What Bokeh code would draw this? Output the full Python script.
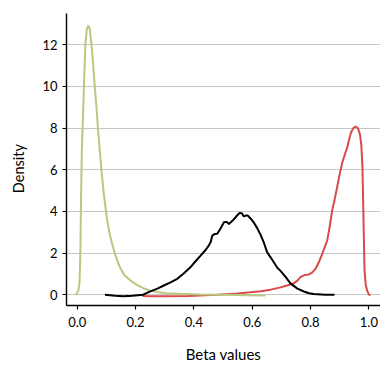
from bokeh.plotting import figure
from bokeh.models import Range1d, FixedTicker
from bokeh.embed import file_html
from bokeh.resources import INLINE

# ---- data ----
green_x = [-0.005, 0.004, 0.008, 0.011, 0.013, 0.016, 0.020, 0.023, 0.028, 0.033, 0.038,
           0.043, 0.049, 0.055, 0.060, 0.066, 0.071, 0.077, 0.083, 0.090, 0.097, 0.103,
           0.110, 0.118, 0.126, 0.135, 0.144, 0.153, 0.163, 0.175, 0.186, 0.205, 0.225,
           0.248, 0.275, 0.306, 0.35, 0.42, 0.50, 0.58, 0.645]
green_y = [0.0, 0.2, 0.6, 2.1, 4.5, 7.0, 8.6, 10.0, 12.0, 12.75, 12.92,
           12.75, 12.0, 11.0, 10.0, 9.0, 8.0, 7.0, 6.0, 5.0, 4.2, 3.56,
           3.0, 2.55, 2.12, 1.75, 1.4, 1.15, 0.93, 0.78, 0.65, 0.48, 0.33,
           0.21, 0.14, 0.08, 0.05, 0.02, 0.0, -0.02, -0.03]

black_x = [0.095, 0.13, 0.158, 0.19, 0.226, 0.251, 0.275, 0.297, 0.32, 0.343, 0.365,
           0.388, 0.405, 0.423, 0.440, 0.451, 0.458, 0.463, 0.472, 0.480, 0.490, 0.503,
           0.512, 0.520, 0.532, 0.543, 0.551, 0.558, 0.565, 0.571, 0.578, 0.585, 0.595,
           0.605, 0.617, 0.628, 0.640, 0.651, 0.663, 0.674, 0.686, 0.697, 0.715, 0.731,
           0.755, 0.777, 0.795, 0.811, 0.85, 0.882]
black_y = [0.0, -0.04, -0.07, -0.04, 0.01, 0.17, 0.30, 0.45, 0.60, 0.77, 1.02,
           1.32, 1.60, 1.88, 2.15, 2.36, 2.55, 2.84, 2.92, 2.93, 3.15, 3.48,
           3.50, 3.40, 3.55, 3.72, 3.85, 3.93, 3.90, 3.76, 3.80, 3.80, 3.65,
           3.48, 3.20, 2.90, 2.50, 2.05, 1.80, 1.56, 1.30, 1.15, 0.85, 0.55,
           0.30, 0.16, 0.08, 0.04, 0.01, 0.0]

red_x = [0.224, 0.251, 0.30, 0.38, 0.48, 0.55, 0.594, 0.629, 0.663, 0.697, 0.72,
         0.743, 0.755, 0.766, 0.780, 0.794, 0.806, 0.817, 0.828, 0.840, 0.857, 0.866,
         0.874, 0.883, 0.891, 0.900, 0.909, 0.918, 0.926, 0.933, 0.939, 0.947, 0.954,
         0.962, 0.969, 0.974, 0.978, 0.981, 0.985, 0.989, 0.994, 1.000, 1.005]
red_y = [-0.05, -0.07, -0.07, -0.05, 0.0, 0.06, 0.12, 0.17, 0.25, 0.36, 0.45,
         0.56, 0.68, 0.86, 0.95, 0.98, 1.08, 1.25, 1.55, 1.97, 2.60, 3.3,
         4.04, 4.6, 5.16, 5.8, 6.36, 6.75, 7.08, 7.5, 7.80, 8.0, 8.07,
         8.0, 7.72, 7.2, 6.1, 4.0, 1.2, 0.5, 0.2, 0.02, -0.03]

x_ticks = [0.0, 0.2, 0.4, 0.6, 0.8, 1.0]
y_ticks = [0, 2, 4, 6, 8, 10, 12]
x_label = "Beta values"
y_label = "Density"

FONT = "Lato"

p = figure(width=380, height=367, output_backend="svg", toolbar_location=None,
           x_range=Range1d(-0.0367, 1.0398), y_range=Range1d(-0.51, 13.49),
           min_border_left=66, min_border_right=0, min_border_top=13, min_border_bottom=62)
p.outline_line_color = None
p.background_fill_color = "white"
p.border_fill_color = "white"

p.line(red_x, red_y, line_color="#d94a4b", line_width=2)
p.line(green_x, green_y, line_color="#b5ca7e", line_width=2)
p.line(black_x, black_y, line_color="black", line_width=2)

p.xgrid.grid_line_color = None
p.ygrid.grid_line_color = "#c6c6c6"
p.ygrid.grid_line_width = 1.2
p.ygrid.ticker = FixedTicker(ticks=y_ticks)

p.xaxis.ticker = FixedTicker(ticks=x_ticks)
p.yaxis.ticker = FixedTicker(ticks=y_ticks)
p.xaxis.major_label_overrides = {t: f"{t:.1f}" for t in x_ticks}
for ax in (p.xaxis[0], p.yaxis[0]):
    ax.axis_line_color = "black"
    ax.axis_line_width = 1.4
    ax.major_tick_line_color = "black"
    ax.major_tick_line_width = 1.2
    ax.major_tick_out = 4
    ax.major_tick_in = 0
    ax.minor_tick_line_color = None
    ax.major_label_text_font = FONT
    ax.major_label_text_font_size = "13px"
    ax.major_label_text_color = "black"
    ax.axis_label_text_font = FONT
    ax.axis_label_text_font_size = "15px"
    ax.axis_label_text_font_style = "normal"
    ax.axis_label_text_color = "black"

p.xaxis.major_label_standoff = 7
p.yaxis.major_label_standoff = 5
p.xaxis.axis_label = x_label
p.xaxis.axis_label_standoff = 15
p.yaxis.axis_label = y_label + "\u00a0" * 5
p.yaxis.axis_label_text_font_size = "14.5px"
p.yaxis.axis_label_standoff = 12

open("out.html", "w").write(file_html(p, INLINE))
